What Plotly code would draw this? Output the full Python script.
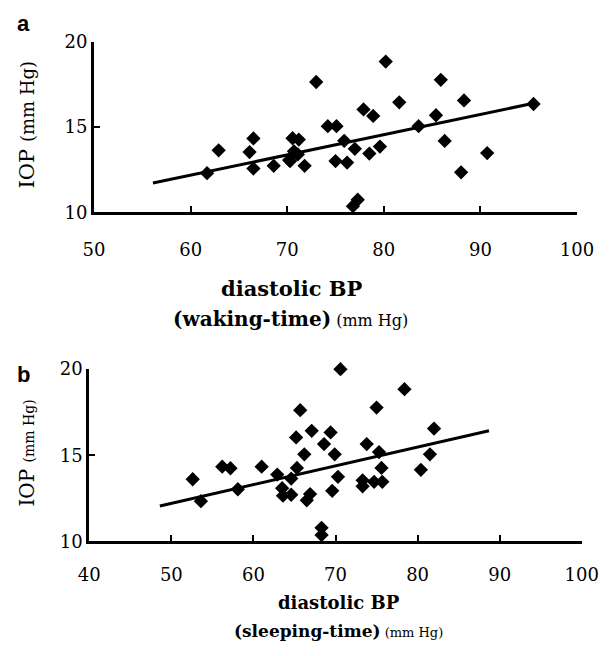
import plotly.graph_objects as go

# ---- data: panel a (waking-time) ----
wake_bp = [61.7, 62.9, 66.5, 66.1, 66.5, 68.6, 70.3, 70.55, 71.2, 70.7, 70.2, 71.1, 71.8,
           73.0, 74.2, 75.1, 75.0, 76.2, 75.9, 77.0, 77.9, 78.9, 78.5, 79.6, 80.2, 81.6,
           83.6, 85.4, 85.9, 85.4, 88.3, 86.3, 88.0, 90.7, 95.5, 77.3, 76.8]
wake_iop = [12.3, 13.64, 14.34, 13.54, 12.57, 12.73, 13.01, 14.35, 14.27, 13.58, 13.07, 13.4, 12.73,
            17.65, 15.06, 15.06, 13.01, 12.92, 14.2, 13.73, 16.04, 15.66, 13.45, 13.86, 18.85, 16.46,
            15.06, 20.07, 17.78, 15.7, 16.57, 14.19, 12.35, 13.48, 16.36, 10.74, 10.36]
wake_fit_x = [56.1, 95.5]
wake_fit_y = [11.72, 16.4]

# ---- data: panel b (sleeping-time) ----
sleep_bp = [52.6, 53.6, 56.2, 57.2, 58.1, 61.0, 62.9, 64.6, 63.5, 63.6, 64.6, 65.2, 65.7,
            65.3, 66.2, 67.1, 66.5, 66.9, 68.3, 68.3, 68.6, 69.4, 69.9, 70.3, 69.6, 70.6,
            73.8, 73.3, 73.3, 74.7, 75.7, 75.6, 75.3, 75.0, 78.4, 80.4, 81.5, 82.0]
sleep_iop = [13.61, 12.34, 14.34, 14.25, 13.03, 14.34, 13.88, 13.65, 13.09, 12.66, 12.71, 16.04, 17.62,
             14.27, 15.06, 16.42, 12.39, 12.75, 10.79, 10.37, 15.65, 16.33, 15.06, 13.75, 12.94, 20.0,
             15.65, 13.55, 13.2, 13.46, 13.46, 14.27, 15.19, 17.77, 18.84, 14.16, 15.06, 16.55]
sleep_fit_x = [48.6, 88.7]
sleep_fit_y = [12.06, 16.42]

x_ticks_a = [50, 60, 70, 80, 90, 100]
x_ticks_b = [40, 50, 60, 70, 80, 90, 100]
y_ticks = [10, 15, 20]

W, H = 615, 656
def px(x): return x / W
def py(y): return 1 - y / H

SERIF = "DejaVu Serif"

fig = go.Figure()
mk = dict(symbol="diamond", size=11, color="black", line=dict(width=0))
fig.add_trace(go.Scatter(x=wake_bp, y=wake_iop, mode="markers", marker=mk,
                         xaxis="x", yaxis="y", cliponaxis=False, showlegend=False))
fig.add_trace(go.Scatter(x=wake_fit_x, y=wake_fit_y, mode="lines",
                         line=dict(color="black", width=3), xaxis="x", yaxis="y", showlegend=False))
fig.add_trace(go.Scatter(x=sleep_bp, y=sleep_iop, mode="markers", marker=mk,
                         xaxis="x2", yaxis="y2", cliponaxis=False, showlegend=False))
fig.add_trace(go.Scatter(x=sleep_fit_x, y=sleep_fit_y, mode="lines",
                         line=dict(color="black", width=3), xaxis="x2", yaxis="y2", showlegend=False))

ax_common = dict(showline=True, linecolor="black", linewidth=3, showgrid=False, zeroline=False,
                 ticks="inside", ticklen=6, tickwidth=2, tickcolor="black",
                 tickfont=dict(family=SERIF, size=18, color="black"))
ysuffix = "\u2002\u2009"

fig.update_layout(
    width=W, height=H, margin=dict(l=0, r=0, t=0, b=0),
    paper_bgcolor="white", plot_bgcolor="white", hovermode=False,
    xaxis=dict(domain=[px(87), px(593)], range=[50, 100], tickvals=x_ticks_a,
               anchor="y", ticklabelstandoff=19, ticklabeloverflow="allow", **ax_common),
    yaxis=dict(domain=[py(208), py(32)], range=[10, 20], tickvals=y_ticks,
               anchor="x", ticksuffix=ysuffix, **ax_common),
    xaxis2=dict(domain=[px(82), px(598)], range=[40, 100], tickvals=x_ticks_b,
                anchor="y2", ticklabelstandoff=15, ticklabeloverflow="allow", **ax_common),
    yaxis2=dict(domain=[py(548), py(370)], range=[10, 20], tickvals=y_ticks,
                anchor="x2", ticksuffix=ysuffix, **ax_common),
)

ann = []
# panel letters
ann.append(dict(x=px(4), y=py(13), text="<b>a</b>", xanchor="left", yanchor="middle",
                font=dict(family="Liberation Sans", size=22, color="black")))
ann.append(dict(x=px(4), y=py(376), text="<b>b</b>", xanchor="left", yanchor="middle",
                font=dict(family="Liberation Sans", size=22, color="black")))
# y titles
ann.append(dict(x=px(17), y=py(118), text="IOP <span style='font-size:18px'>(mm Hg)</span>",
                textangle=-90, xanchor="center", yanchor="middle",
                font=dict(family=SERIF, size=21, color="black")))
ann.append(dict(x=px(17), y=py(457), text="IOP <span style='font-size:14px'>(mm Hg)</span>",
                textangle=-90, xanchor="center", yanchor="middle",
                font=dict(family=SERIF, size=20, color="black")))
# x titles panel a
ann.append(dict(x=px(294), y=py(287), text="<b>diastolic BP</b>", xanchor="center", yanchor="middle",
                font=dict(family=SERIF, size=21, color="black")))
ann.append(dict(x=px(293), y=py(318),
                text="<b>(waking-time)</b><span style='font-size:16px'> (mm Hg)</span>",
                xanchor="center", yanchor="middle", font=dict(family=SERIF, size=20, color="black")))
# x titles panel b
ann.append(dict(x=px(344), y=py(611), text="<b>diastolic BP</b>", xanchor="center", yanchor="middle",
                font=dict(family=SERIF, size=18, color="black")))
ann.append(dict(x=px(343), y=py(641),
                text="<b>(sleeping-time)</b><span style='font-size:13px'> (mm Hg)</span>",
                xanchor="center", yanchor="middle", font=dict(family=SERIF, size=17, color="black")))
for a in ann:
    a.update(xref="paper", yref="paper", showarrow=False)
fig.update_layout(annotations=ann)

fig.write_html(
    "out.html",
    config={"displayModeBar": False},
    post_script=("document.documentElement.style.overflow='hidden';"
                 "document.body.style.margin='0';document.body.style.overflow='hidden';"),
)
